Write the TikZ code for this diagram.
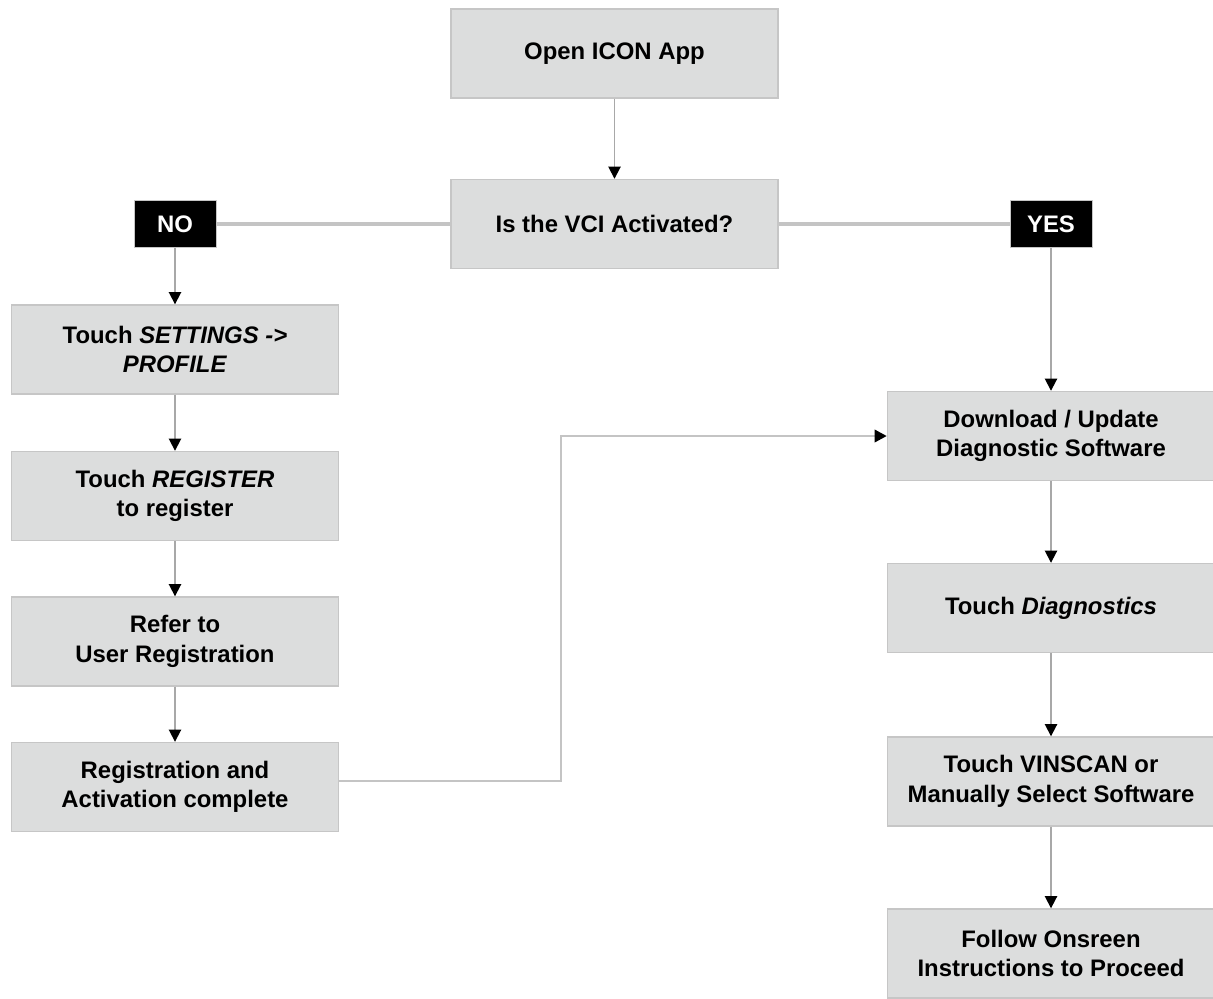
\documentclass[tikz,border=0pt]{standalone}
\usepackage{fontspec}
\setmainfont{Liberation Sans}
\usetikzlibrary{arrows.meta}
\definecolor{boxfill}{HTML}{DCDDDD}
\definecolor{boxline}{HTML}{C6C6C6}
\definecolor{conn}{HTML}{C4C4C4}
\definecolor{vconn}{HTML}{A8A8A8}
\begin{document}
\begin{tikzpicture}[x=0.02cm,y=-0.02cm,
  stepbox/.style={draw=boxline,fill=boxfill,line width=0.8pt,minimum width=6.54cm,minimum height=1.78cm,align=center,font=\bfseries\fontsize{13.6}{16.8}\selectfont,inner sep=0pt},
  tag/.style={draw=boxline,fill=black,text=white,minimum width=1.64cm,minimum height=0.94cm,font=\bfseries\fontsize{13.6}{15}\selectfont,inner sep=0pt},
  link/.style={draw=conn,line width=1.8pt},
  arr/.style={draw=vconn,line width=1.0pt,-{Triangle[length=7pt,width=7pt,fill=black,color=black]}}]
\useasboundingbox (0,0) rectangle (1213,998);
\begin{scope}
\clip (0,0) rectangle (1213,998);
\node[stepbox] (open) at (614.5,53.5) {Open ICON App};
\node[stepbox] (vci) at (614.5,224) {Is the VCI Activated?};
\node[tag] (no) at (175,224) {NO};
\node[tag] (yes) at (1051,224) {YES};
\node[stepbox] (settings) at (175,349.5) {Touch \textit{SETTINGS ->}\\\textit{PROFILE}};
\node[stepbox] (register) at (175,496) {Touch \textit{REGISTER}\\to register};
\node[stepbox] (refer) at (175,641.5) {Refer to\\User Registration};
\node[stepbox] (done) at (175,787) {Registration and\\Activation complete};
\node[stepbox] (download) at (1051,436) {Download / Update\\Diagnostic Software};
\node[stepbox] (diag) at (1051,608) {Touch \textit{Diagnostics}};
\node[stepbox] (vin) at (1051,781.5) {Touch VINSCAN or\\Manually Select Software};
\node[stepbox] (follow) at (1051,953.5) {Follow Onsreen\\Instructions to Proceed};
\coordinate (bend1) at (561,781);
\coordinate (bend2) at (561,436);
\draw[arr] (open) -- (vci);
\draw[link] (vci) -- (no);
\draw[link] (vci) -- (yes);
\draw[arr] (no) -- (settings);
\draw[arr] (yes) -- (download);
\draw[arr] (settings) -- (register);
\draw[arr] (register) -- (refer);
\draw[arr] (refer) -- (done);
\draw[arr,draw=conn,line width=1.6pt] (done.east |- bend1) -- (bend1) -- (bend2) -- (download.west);
\draw[arr] (download) -- (diag);
\draw[arr] (diag) -- (vin);
\draw[arr] (vin) -- (follow);
\end{scope}
\end{tikzpicture}
\end{document}
